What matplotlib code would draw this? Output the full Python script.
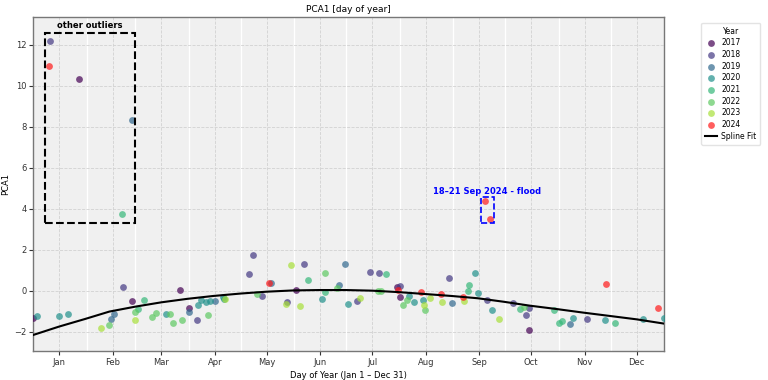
import matplotlib
matplotlib.use("Agg")
import matplotlib.pyplot as plt
from matplotlib.patches import Rectangle

# day of year (0-365) and PCA1 value per observation, grouped by year
days_2017 = [0, 26.6, 57.1, 84.9, 89.9, 152, 210.3, 212.2, 287]
pca_2017 = [-1.35, 10.31, -0.50, 0.05, -0.86, 0.03, 0.20, -0.32, -1.92]

days_2018 = [9.8, 52.1, 94.9, 125, 127, 132.2, 147, 156.8, 187.1, 195, 200.1, 212.2,
             240.2, 262.4, 277.2, 285.1, 287, 320.2]
pca_2018 = [12.17, 0.17, -1.43, 0.80, 1.74, -0.26, -0.57, 1.29, -0.50, 0.93, 0.88, 0.24,
            0.63, -0.44, -0.58, -1.19, -0.86, -1.38]

days_2019 = [57.1, 45, 46.9, 90.1, 105, 137.4, 177.1, 180.2, 242.1, 310.2]
pca_2019 = [8.33, -1.38, -1.12, -1.06, -0.49, 0.38, 0.29, 1.30, -0.62, -1.62]

days_2020 = [1.9, 15, 19.9, 76.8, 95.1, 97, 100.1, 102.3, 109.8, 110.4, 167.1, 182.1,
             217.4, 220.3, 225.3, 255.2, 257.2, 265.5, 312.3, 330.7, 352.4, 365]
pca_2020 = [-1.23, -1.23, -1.15, -1.15, -0.71, -0.47, -0.55, -0.49, -0.32, -0.42, -0.40, -0.63,
            -0.27, -0.57, -0.47, 0.85, -0.13, -0.93, -1.35, -1.43, -1.40, -1.35]

days_2021 = [51.1, 60.8, 64.1, 159.1, 169, 204.1, 251.4, 252.3, 281.3, 301.3, 304.2, 306.1, 336.2]
pca_2021 = [3.73, -0.88, -0.45, 0.54, -0.06, 0.81, -0.01, 0.29, -0.91, -0.93, -1.56, -1.46, -1.56]

days_2022 = [44, 59, 68.9, 71, 79.1, 80.8, 86.1, 101.1, 129.1, 169, 175.9, 199.1, 201.4,
             214.1, 216.3, 226.3, 284.1]
pca_2022 = [-1.67, -1.06, -1.27, -1.07, -1.15, -1.59, -1.43, -1.17, -0.16, 0.86, 0.15, -0.03, 0.0,
            -0.71, -0.44, -0.96, -0.78]

days_2023 = [39, 59, 111.1, 146, 149, 154, 189.1, 226.1, 229.2, 236.3, 249.1, 269.1]
pca_2023 = [-1.80, -1.43, -0.42, -0.66, 1.25, -0.73, -0.37, -0.68, -0.36, -0.55, -0.52, -1.38]

days_2024 = [8.9, 136.2, 211.1, 224.2, 236.1, 248.8, 261.4, 263.9, 331.4, 361.5]
pca_2024 = [10.96, 0.38, 0.02, -0.05, -0.15, -0.31, 4.39, 3.48, 0.31, -0.86]

years = [2017, 2018, 2019, 2020, 2021, 2022, 2023, 2024]
year_days = [days_2017, days_2018, days_2019, days_2020, days_2021, days_2022, days_2023, days_2024]
year_pca = [pca_2017, pca_2018, pca_2019, pca_2020, pca_2021, pca_2022, pca_2023, pca_2024]
year_colors = ['#440154', '#443983', '#31688e', '#21918c', '#35b779', '#5ec962', '#a8e03a', '#ff1a1a']

# spline fit
spline_days = [0, 15, 30, 44, 59, 74, 89, 104, 120, 135, 150, 165, 181, 196, 211, 226,
               242, 257, 272, 287, 303, 318, 334, 349, 365]
spline_pca = [-2.16, -1.75, -1.38, -1.02, -0.78, -0.57, -0.40, -0.26, -0.14, -0.05, 0.01, 0.03,
              0.03, 0.0, -0.07, -0.16, -0.26, -0.37, -0.54, -0.73, -0.90, -1.07, -1.24, -1.40, -1.61]

month_names = ['Jan', 'Feb', 'Mar', 'Apr', 'May', 'Jun', 'Jul', 'Aug', 'Sep', 'Oct', 'Nov', 'Dec']
month_mid = [15, 46, 74, 105, 135, 166, 196, 227, 258, 288, 319, 349]
month_start = [31, 59, 90, 120, 151, 181, 212, 243, 273, 304, 334]

plt.rcParams['font.size'] = 6

fig = plt.figure(figsize=(7.68, 3.8), dpi=100)
ax = fig.add_axes([0.0434, 0.0771, 0.8216, 0.8774])
ax.set_facecolor('#f0f0f0')

for d in month_start:
    ax.axvline(d, color='white', lw=1.0, zorder=0)
ax.grid(True, linestyle='--', color='#d2d2d2', lw=0.6, zorder=0)
ax.set_axisbelow(True)

for yr, d, v, c in zip(years, year_days, year_pca, year_colors):
    ax.scatter(d, v, s=24, color=c, alpha=0.7, linewidths=0, label=str(yr), zorder=3)

ax.plot(spline_days, spline_pca, color='black', lw=1.5, label='Spline Fit', zorder=4)

# outlier boxes
ax.add_patch(Rectangle((6.8, 3.32), 52.0, 9.27, fill=False, ec='black', ls='--', lw=1.5, zorder=5))
ax.text(32.8, 12.72, 'other outliers', ha='center', va='bottom', fontsize=6,
        fontweight='bold', color='black')
ax.add_patch(Rectangle((259.1, 3.32), 7.5, 1.27, fill=False, ec='blue', ls='--', lw=1.2, zorder=5))
ax.text(262.4, 4.62, '18–21 Sep 2024 - flood', ha='center', va='bottom', fontsize=6,
        fontweight='bold', color='blue')

ax.set_xlim(0, 365)
ax.set_ylim(-2.93, 13.34)
ax.set_xticks(month_mid)
ax.set_xticklabels(month_names)
ax.set_yticks([-2, 0, 2, 4, 6, 8, 10, 12])
ax.tick_params(length=3, pad=2, colors='#333333', labelcolor='#333333')
for s in ax.spines.values():
    s.set_color('#777777')
    s.set_linewidth(1.0)

ax.set_title('PCA1 [day of year]', fontsize=6.5, pad=4)
ax.set_xlabel('Day of Year (Jan 1 – Dec 31)', labelpad=3)
ax.set_ylabel('PCA1', labelpad=3)

leg = ax.legend(title='Year', loc='upper left', bbox_to_anchor=(1.055, 0.99), fontsize=5.5,
                title_fontsize=5.5, frameon=True, borderpad=0.5, labelspacing=0.35,
                handlelength=1.6, handletextpad=0.5, borderaxespad=0.3)
leg.get_frame().set_edgecolor('#dddddd')

fig.savefig('out.png', dpi=100)
